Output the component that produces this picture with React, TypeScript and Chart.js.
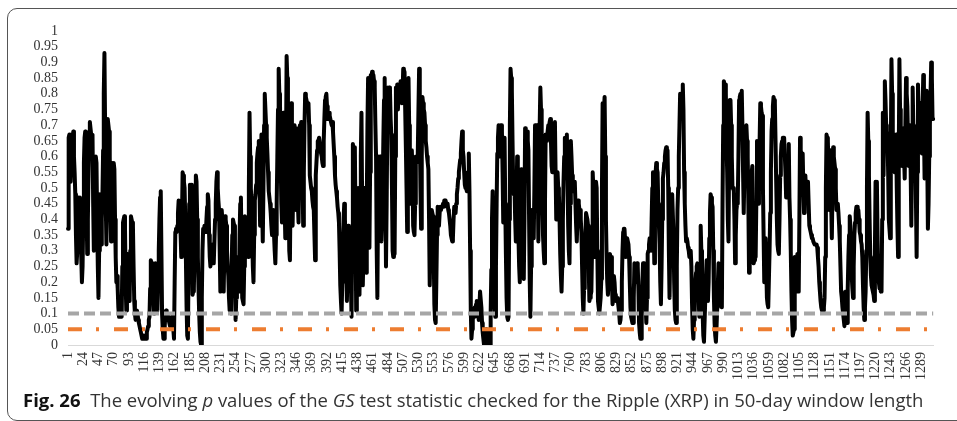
import React, { useEffect, useRef } from "react";
import { Chart, registerables } from "chart.js";

Chart.register(...registerables);

// p values of the GS test statistic, 50-day window
const pSeg1 = [
  .37,.66,.67,.64,.52,.62,.67,.66,.68,.60,
  .55,.48,.35,.26,.30,.38,.47,.44,.47,.36,
  .28,.20,.25,.40,.58,.66,.68,.60,.45,.29,
  .40,.55,.66,.71,.69,.67,.66,.67,.45,.30,
  .42,.55,.60,.58,.40,.25,.15,.30,.48,.40,
  .32,.40,.48,.62,.80,.93,.70,.45,.32,.50,
  .72,.70,.68,.60,.45,.33,.45,.58,.57,.58,
  .56,.40,.28,.20,.22,.18,.12,.09,.12,.14,
  .10,.09,.25,.39,.40,.41,.38,.20,.11,.18,
  .29,.24,.18,.14,.30,.41,.40,.39,.38,.25,
  .14,.10,.08,.09,.11,.10,.08,.07,.06,.05,
  .04,.03,.02,.02,.03,.02,.02,.03,.02,.04,
  .05,.06,.08,.09,.18,.27,.26,.25,.26,.15,
  .10,.18,.26,.24,.15,.11,.20,.30,.40,.47,
  .49,.30,.10,.05,.02,.02,.06,.10,.11,.10,
  .10,.09,.08,.07,.06,.06,.08,.09,.08,.05,
  .02,.20,.36,.37,.36,.38,.42,.46,.40,.45,
  .35,.28,.40,.55,.54,.52,.50,.40,.27,.12,
  .03,.02,.25,.45,.51,.50,.51,.35,.16,.17,
  .18,.30,.45,.54,.52,.40,.28,.18,.10,.04,
  .01,.00,.15,.30,.37,.36,.38,.37,.36,.40,
  .44,.48,.46,.35,.28,.25,
];
const pSeg2 = [
  .30,.28,.32,.30,.26,.33,.40,.45,.52,.55,
  .50,.46,.43,.30,.17,.28,.43,.40,.25,.17,
  .30,.41,.40,.38,.30,.25,.22,.15,.11,.12,
  .10,.25,.35,.40,.39,.38,.20,.08,.15,.28,
  .24,.20,.17,.35,.45,.47,.30,.15,.14,.13,
  .25,.41,.40,.38,.35,.30,.28,.50,.74,.60,
  .50,.45,.35,.25,.20,.35,.46,.48,.51,.58,
  .61,.63,.65,.50,.38,.55,.67,.45,.33,.50,
  .70,.80,.75,.70,.66,.61,.55,.49,.47,.45,
  .42,.38,.35,.38,.43,.35,.30,.26,.35,.45,
  .60,.75,.88,.80,.77,.60,.45,.39,.55,.74,
  .60,.45,.34,.60,.92,.85,.75,.50,.30,.27,
  .50,.77,.60,.38,.50,.62,.70,.55,.43,.69,
  .55,.45,.39,.55,.70,.68,.71,.70,.55,.38,
  .55,.70,.80,.79,.78,.77,.76,.77,.70,.54,
  .52,.50,.49,.46,.44,.43,.35,.27,.54,.58,
  .62,.65,.65,.66,.66,.63,.61,.60,.58,.57,
  .65,.72,.78,.79,.80,.76,.72,.73,.74,.73,
  .72,.71,.70,.71,.68,.64,.60,.54,.51,.49,
  .47,.44,.42,.39,.30,.19,.14,.10,.20,.33,
  .40,.45,.40,.34,.25,.14,.25,.38,.35,.32,
  .30,.20,.09,.35,.64,.62,.60,.63,
];
const pSeg3 = [
  .40,.11,.25,.40,.50,.30,.16,.35,.60,.74,
  .45,.19,.30,.50,.40,.30,.23,.45,.70,.85,
  .60,.31,.55,.86,.84,.87,.85,.86,.84,.82,
  .70,.60,.30,.15,.45,.60,.58,.60,.45,.33,
  .40,.50,.65,.78,.85,.50,.25,.45,.70,.82,
  .80,.82,.81,.72,.67,.50,.30,.28,.30,.29,
  .60,.82,.80,.83,.75,.80,.83,.78,.84,.80,
  .77,.80,.88,.85,.87,.75,.63,.50,.36,.60,
  .85,.70,.45,.55,.60,.62,.55,.38,.36,.35,
  .45,.60,.58,.60,.61,.75,.88,.70,.50,.37,
  .60,.79,.77,.75,.74,.70,.65,.63,.60,.58,
  .56,.40,.19,.30,.40,.43,.42,.41,.30,.13,
  .08,.07,.20,.35,.44,.40,.38,.42,.44,.43,
  .44,.44,.45,.44,.46,.45,.46,.45,.44,.45,
  .43,.42,.40,.38,.35,.34,.33,.34,.40,.44,
  .43,.42,.45,.48,.50,.53,.55,.57,.59,.61,
  .65,.68,.62,.60,.55,.51,.50,.50,.49,.49,
  .55,.61,.49,.30,.11,.02,.05,.08,.10,.09,
  .12,.11,.13,.14,.12,.10,.08,.12,.17,.17,
  .12,.07,.04,.02,.00,.02,.04,.05,.03,.03,
  .01,.00,.00,.00,.10,.24,.40,.49,.30,.17,
  .12,.09,.25,.45,.61,.66,.70,.68,
];
const pSeg4 = [
  .60,.70,.70,.68,.55,.39,.50,.66,.45,.29,
  .15,.09,.08,.09,.40,.70,.88,.85,.81,.65,
  .51,.48,.50,.40,.33,.45,.60,.50,.34,.25,
  .20,.35,.56,.55,.53,.35,.21,.40,.69,.68,
  .66,.68,.65,.62,.40,.20,.09,.25,.43,.40,
  .38,.34,.50,.70,.69,.70,.70,.55,.33,.50,
  .70,.82,.75,.67,.50,.35,.30,.26,.45,.67,
  .65,.66,.68,.70,.69,.71,.72,.65,.57,.55,
  .56,.55,.62,.71,.55,.40,.50,.55,.50,.48,
  .40,.29,.22,.17,.25,.40,.52,.60,.66,.65,
  .66,.67,.55,.38,.30,.26,.45,.65,.60,.54,
  .50,.49,.50,.52,.45,.38,.33,.40,.46,.45,
  .43,.43,.40,.36,.25,.15,.10,.18,.28,.35,
  .42,.42,.40,.38,.25,.14,.15,.16,.17,.30,
  .55,.50,.35,.28,.40,.52,.50,.30,.14,.12,
  .10,.10,.15,.21,.50,.77,.70,.75,.79,.60,
  .40,.28,.20,.16,.20,.25,.29,.28,.28,.20,
  .13,.15,.22,.20,.16,.14,.14,.15,.14,.12,
  .10,.07,.08,.11,.20,.30,.36,.37,.37,.33,
  .28,.30,.34,.34,.32,.28,.20,.12,.09,.08,
  .07,.07,.15,.26,.24,.20,.22,.26,.25,.18,
  .07,.04,.02,.02,.10,.20,.26,
];
const pSeg5 = [
  .20,.26,.20,.12,.07,.15,.29,.30,.32,.34,
  .32,.30,.40,.50,.55,.40,.26,.40,.55,.58,
  .56,.55,.45,.38,.32,.20,.13,.25,.40,.53,
  .55,.58,.60,.62,.63,.62,.62,.50,.30,.15,
  .30,.48,.47,.48,.48,.35,.20,.11,.08,.07,
  .25,.43,.50,.60,.70,.80,.78,.80,.80,.83,
  .75,.55,.45,.38,.33,.34,.33,.31,.30,.28,
  .29,.30,.25,.13,.05,.02,.08,.15,.20,.23,
  .25,.26,.20,.14,.09,.20,.38,.30,.20,.10,
  .03,.01,.08,.15,.22,.27,.20,.14,.20,.34,
  .42,.48,.47,.45,.44,.30,.15,.07,.03,.01,
  .06,.12,.20,.26,.25,.24,.20,.15,.12,.45,
  .70,.84,.83,.83,.80,.65,.55,.40,.33,.60,
  .78,.78,.70,.60,.50,.50,.49,.40,.26,.35,
  .43,.45,.46,.60,.78,.79,.80,.80,.81,.70,
  .55,.42,.55,.68,.69,.70,.65,.60,.45,.23,
  .30,.42,.50,.55,.57,.45,.26,.27,.28,.28,
  .45,.65,.60,.45,.50,.65,.77,.76,.74,.73,
  .50,.35,.20,.22,.34,.25,.15,.13,.12,.12,
  .30,.42,.55,.68,.72,.76,.79,.78,.77,.65,
  .52,.40,.32,.30,.29,.40,.54,.60,.64,.65,
  .66,.66,.66,.66,.55,.47,.48,.48,
];
const pSeg6 = [
  .60,.64,.47,.40,.30,.17,.08,.03,.04,.05,
  .28,.22,.17,.25,.29,.22,.17,.40,.66,.62,
  .61,.60,.61,.50,.42,.50,.54,.50,.46,.50,
  .52,.45,.38,.37,.36,.35,.34,.34,.33,.33,
  .32,.32,.32,.32,.31,.28,.25,.20,.17,.14,
  .12,.11,.11,.11,.12,.15,.28,.50,.67,.66,
  .65,.55,.43,.55,.62,.45,.34,.50,.63,.60,
  .58,.56,.50,.43,.44,.45,.42,.38,.33,.25,
  .17,.15,.12,.10,.08,.06,.12,.17,.10,.07,
  .18,.28,.35,.41,.38,.28,.22,.18,.15,.25,
  .35,.39,.42,.44,.44,.43,.43,.40,.36,.35,
  .33,.32,.28,.19,.12,.08,.12,.17,.30,.50,
  .74,.65,.54,.40,.28,.22,.19,.18,.18,.16,
  .14,.30,.52,.50,.52,.35,.21,.20,.18,.18,
  .17,.17,.40,.74,.54,.70,.84,.78,.70,.68,
  .67,.55,.40,.37,.34,.60,.91,.80,.68,.62,
  .58,.55,.60,.67,.50,.38,.28,.60,.91,.75,
  .67,.62,.57,.63,.69,.60,.53,.70,.85,.80,
  .76,.65,.57,.62,.70,.55,.38,.60,.82,.70,
  .61,.65,.67,.45,.28,.55,.83,.75,.64,.70,
  .77,.70,.61,.75,.86,.70,.53,.65,.78,.81,
  .60,.37,.45,.60,.70,.80,.90,.85,.72,.72,
];

const pValues: number[] = [...pSeg1, ...pSeg2, ...pSeg3, ...pSeg4, ...pSeg5, ...pSeg6];
// window index categories 1..N
const categories: string[] = pValues.map((_, i) => String(i + 1));
const tickEvery = 23;
const yTicks = [0, 0.05, 0.1, 0.15, 0.2, 0.25, 0.3, 0.35, 0.4, 0.45, 0.5, 0.55, 0.6, 0.65, 0.7, 0.75, 0.8, 0.85, 0.9, 0.95, 1];
const level10 = 0.1;
const level05 = 0.05;

const SERIF = "'Liberation Serif', 'Times New Roman', Times, serif";
Chart.defaults.font.family = SERIF;
Chart.defaults.font.size = 14;

export default function App() {
  const canvasRef = useRef<HTMLCanvasElement | null>(null);

  useEffect(() => {
    const canvas = canvasRef.current;
    if (!canvas) return;
    const tickFont = { family: SERIF, size: 14 };
    const chart = new Chart(canvas, {
      type: "line",
      data: {
        labels: categories,
        datasets: [
          {
            label: "p value",
            data: pValues,
            borderColor: "#000000",
            borderWidth: 4,
            borderJoinStyle: "round",
            borderCapStyle: "round",
            pointRadius: 0,
            tension: 0,
            order: 2,
          },
          {
            label: "0.1",
            data: categories.map(() => level10),
            borderColor: "#a6a6a6",
            borderWidth: 4,
            borderDash: [11, 5],
            pointRadius: 0,
            order: 1,
          },
          {
            label: "0.05",
            data: categories.map(() => level05),
            borderColor: "#ed7d31",
            borderWidth: 4,
            borderDash: [14, 14, 3, 15],
            pointRadius: 0,
            order: 0,
          },
        ],
      },
      options: {
        animation: false,
        responsive: false,
        maintainAspectRatio: false,
        font: tickFont,
        layout: { padding: { left: 0, top: 31, right: 17, bottom: 0 } },
        plugins: { legend: { display: false }, tooltip: { enabled: false } },
        scales: {
          x: {
            grid: { display: false, drawTicks: false },
            border: { display: true, color: "#d9d9d9", width: 1 },
            ticks: {
              autoSkip: false,
              minRotation: 90,
              maxRotation: 90,
              padding: 7,
              color: "#333333",
              font: tickFont,
              callback: (_v: any, i: number) => (i % tickEvery === 0 ? categories[i] : ""),
            },
            afterFit: (s: any) => {
              s.height = 76;
            },
          },
          y: {
            min: 0,
            max: 1,
            grid: { display: false, drawTicks: false },
            border: { display: false },
            afterBuildTicks: (s: any) => {
              s.ticks = yTicks.map((v) => ({ value: v }));
            },
            ticks: {
              autoSkip: false,
              padding: 10,
              color: "#333333",
              font: tickFont,
              callback: (v: any) => String(Number(Number(v).toFixed(2))),
            },
            afterFit: (s: any) => {
              s.width = 68;
            },
          },
        },
      },
    } as any);
    return () => chart.destroy();
  }, []);

  return (
    <div style={{ position: "absolute", left: 0, top: 0, width: 957, height: 421, overflow: "hidden", background: "#fff" }}>
      <div
        style={{
          position: "absolute",
          left: 7,
          top: 8,
          width: 990,
          height: 413,
          boxSizing: "border-box",
          border: "1.5px solid #555",
          borderRadius: 10,
        }}
      />
      <canvas ref={canvasRef} width={957} height={421} style={{ position: "absolute", left: 0, top: 0, width: 957, height: 421 }} />
      <div
        style={{
          position: "absolute",
          left: 23,
          top: 389,
          whiteSpace: "nowrap",
          fontFamily: "'Open Sans', sans-serif",
          fontSize: 18.5,
          lineHeight: "22px",
          color: "#333",
        }}
      >
        <span style={{ fontWeight: 700, color: "#111" }}>Fig. 26</span>
        {"\u00a0\u00a0"}The evolving <i>p</i> values of the <i>GS</i> test statistic checked for the Ripple (XRP) in 50-day window length
      </div>
    </div>
  );
}
